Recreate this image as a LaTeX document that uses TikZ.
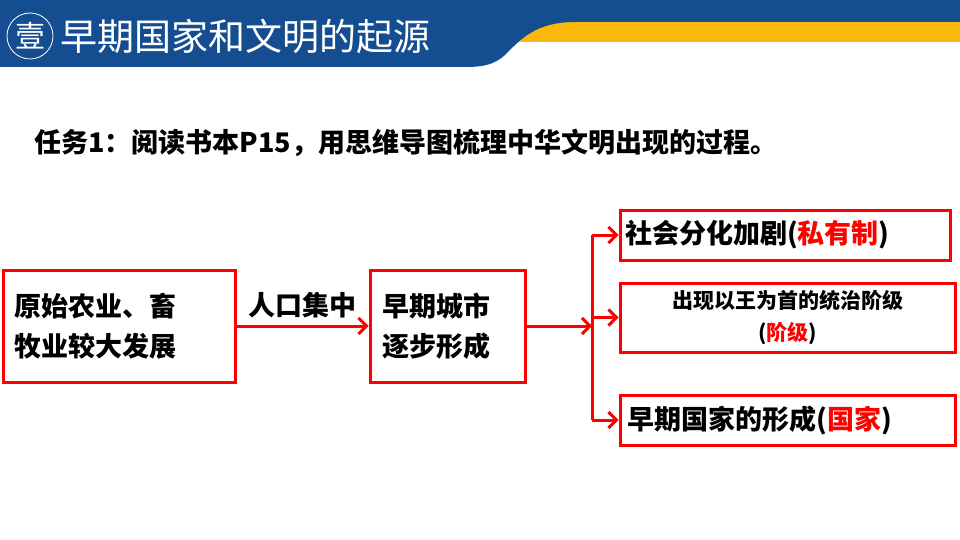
\documentclass[tikz,border=0pt]{standalone}
\usepackage{fontspec}
\setmainfont{Noto Sans CJK SC}
\newfontfamily\cjk{Noto Sans CJK SC}
\usetikzlibrary{positioning, arrows.meta}
\definecolor{hdblue}{RGB}{20,78,145}
\definecolor{hdorange}{RGB}{250,185,10}
\tikzset{
  redbox/.style={draw=red, line width=3pt, fill=white, inner sep=0pt, font=\cjk\bfseries\fontsize{27}{40}\selectfont, align=left},
  redline/.style={red, line width=3pt},
  redarrow/.style={red, line width=3pt, -{Straight Barb[length=8pt,width=16pt]}}
}
\begin{document}
\begin{tikzpicture}[x=1pt,y=-1pt]
        \useasboundingbox (0,0) rectangle (960,540);
        %% header
        \fill[hdorange] (500,22) rectangle (960,42);
        \fill[hdblue] (0,0) -- (960,0) -- (960,22) -- (575,22) .. controls (535,22) and (520,40) .. (505,55) .. controls (495,64) and (485,67) .. (465,67) -- (0,67) -- cycle;
        \node[draw=white, thick, circle, minimum size=46pt, inner sep=0pt, text=white, font=\cjk\fontsize{30}{30}\selectfont] (badge) at (30,36) {壹};
        \node[anchor=west, text=white, font=\cjk\fontsize{37}{38}\selectfont, inner sep=0pt] (title) at (60,36) {早期国家和文明的起源};

        %% task
        \node[anchor=west, font=\cjk\bfseries\fontsize{27}{30}\selectfont, inner sep=0pt] (task) at (34,143) {任务1：阅读书本P15，用思维导图梳理中华文明出现的过程。};

        %% boxes
        \node[redbox, minimum width=232pt, minimum height=112pt, text width=210pt] (farm) at (119,326) {原始农业、畜\\牧业较大发展};
        \node[redbox, minimum width=155pt, minimum height=112pt, text width=130pt] (city) at (447.5,326) {早期城市\\逐步形成};
        \node[redbox, minimum width=330pt, minimum height=50pt, text width=320pt] (split) at (785,235) {社会分化加剧(\textcolor{red}{私有制})};
        \node[redbox, minimum width=335pt, minimum height=69pt, align=center, text width=320pt, font=\cjk\bfseries\fontsize{21}{32}\selectfont] (class) at (787.5,317.5) {出现以王为首的统治阶级\\(\textcolor{red}{阶级})};
        \node[redbox, minimum width=335pt, minimum height=50pt, text width=320pt] (state) at (787.5,420) {早期国家的形成(\textcolor{red}{国家})};

        %% connectors
        \draw[redarrow] (farm.east) -- (city.west) node[midway, above=3pt, text=black, font=\cjk\bfseries\fontsize{27}{30}\selectfont] {人口集中};
        \coordinate (fork) at (592,326);
        \draw[redarrow] (city.east) -- (fork);
        \draw[redline] (fork |- split.west) -- (fork |- state.west);
        \draw[redarrow] (fork |- split.west) -- (split.west);
        \draw[redarrow] (fork |- class.west) -- (class.west);
        \draw[redarrow] (fork |- state.west) -- (state.west);
\end{tikzpicture}
\end{document}
